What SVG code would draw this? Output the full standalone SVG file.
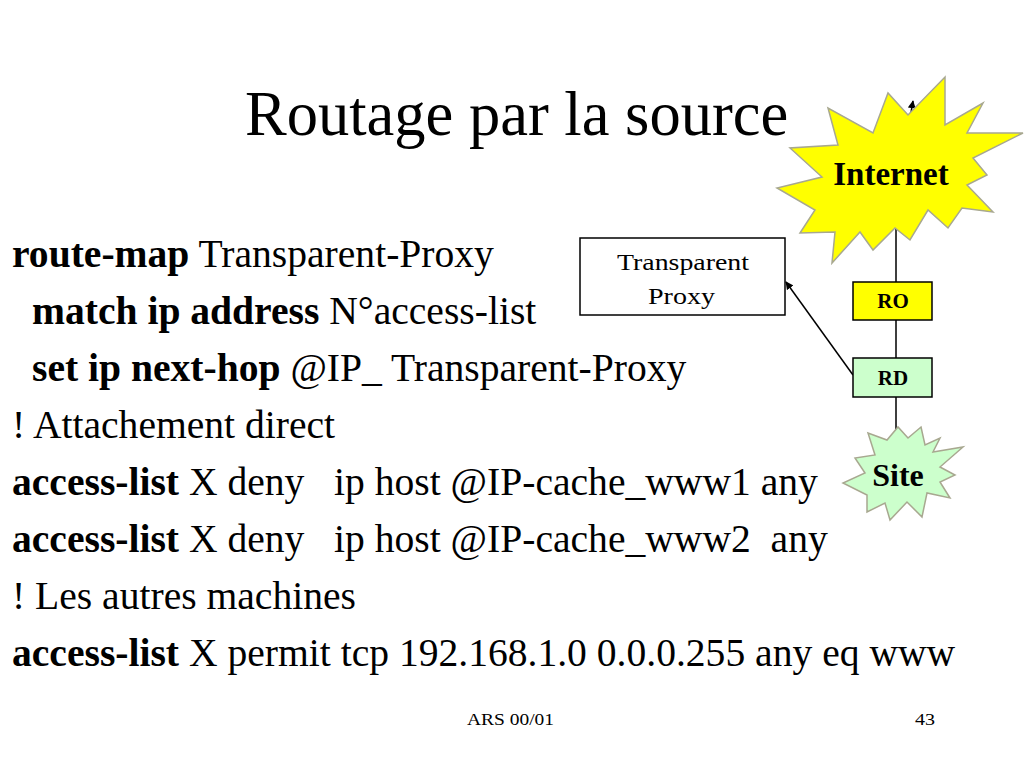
<svg xmlns="http://www.w3.org/2000/svg" width="1024" height="768" viewBox="0 0 1024 768">
<style>
  .t { font-family: "Liberation Serif", "Times New Roman", serif; fill: #000; }
  .body { font-size: 39.6px; white-space: pre; }
  .b { font-weight: bold; }
  .star { stroke: #A8A890; stroke-width: 1.5; stroke-linejoin: miter; }
  .box { stroke: #000; stroke-width: 1.5; }
  .conn { stroke: #000; stroke-width: 1.5; fill: none; }
</style>
<defs>
  <marker id="ah" viewBox="0 0 10 10" refX="9" refY="5" markerWidth="8" markerHeight="8" orient="auto" markerUnits="userSpaceOnUse">
    <path d="M0,0 L10,5 L0,10 z" fill="#000"/>
  </marker>
</defs>
<rect width="1024" height="768" fill="#fff"/>

<text class="t" x="245" y="135" font-size="62.5">Routage par la source</text>

<g id="code">
  <text class="t body" xml:space="preserve" x="12" y="267"><tspan class="b">route-map</tspan> Transparent-Proxy</text>
  <text class="t body" xml:space="preserve" x="32" y="324"><tspan class="b">match ip address</tspan> N°access-list</text>
  <text class="t body" xml:space="preserve" x="32" y="381"><tspan class="b">set ip next-hop</tspan> @IP_ Transparent-Proxy</text>
  <text class="t body" xml:space="preserve" x="12" y="438">! Attachement direct</text>
  <text class="t body" xml:space="preserve" x="12" y="495"><tspan class="b">access-list</tspan> X deny   ip host @IP-cache_www1 any</text>
  <text class="t body" xml:space="preserve" x="12" y="552"><tspan class="b">access-list</tspan> X deny   ip host @IP-cache_www2  any</text>
  <text class="t body" xml:space="preserve" x="12" y="609">! Les autres machines</text>
  <text class="t body" xml:space="preserve" x="12" y="666"><tspan class="b">access-list</tspan> X permit tcp 192.168.1.0 0.0.0.255 any eq www</text>
</g>

<g id="connectors">
  <polyline class="conn" points="896,432 896,200 913,101" marker-end="url(#ah)"/>
  <line class="conn" x1="853" y1="375" x2="786" y2="282" marker-end="url(#ah)"/>
</g>

<g id="internet">
  <polygon class="star" fill="#FFFF00" points="945,77 945,125 983,103 967,133 1023,133 973,158 987,175 967,185 993,212 962,208 948,228 928,210 910,240 895,228 873,250 860,232 832,263 835,232 800,233 815,210 777,188 822,177 790,148 838,145 828,108 873,133 888,93 908,115"/>
  <text class="t b" x="891" y="185" font-size="33" text-anchor="middle">Internet</text>
</g>

<g id="proxy">
  <rect class="box" x="580" y="238" width="205" height="77" fill="#fff"/>
  <text class="t" x="617" y="270" font-size="24" textLength="132" lengthAdjust="spacingAndGlyphs">Transparent</text>
  <text class="t" x="648" y="304" font-size="24" textLength="67" lengthAdjust="spacingAndGlyphs">Proxy</text>
</g>

<g id="ro">
  <rect class="box" x="853" y="282" width="79" height="38" fill="#FFFF00"/>
  <text class="t b" x="893" y="308" font-size="21" text-anchor="middle">RO</text>
</g>

<g id="rd">
  <rect class="box" x="853" y="358" width="79" height="39" fill="#CCFFCC"/>
  <text class="t b" x="893" y="385" font-size="21" text-anchor="middle">RD</text>
</g>

<g id="site">
  <polygon class="star" fill="#CCFFCC" points="921,427 925,445 940,438 933,452 963,447 940,467 955,475 940,482 950,498 927,493 922,517 907,502 890,520 885,503 867,512 867,495 843,483 865,473 855,458 875,455 868,433 887,440 898,427 908,438"/>
  <text class="t b" x="898" y="486" font-size="32" text-anchor="middle">Site</text>
</g>

<text class="t" x="467" y="725" font-size="17" textLength="87" lengthAdjust="spacingAndGlyphs">ARS 00/01</text>
<text class="t" x="915" y="725" font-size="17" textLength="20" lengthAdjust="spacingAndGlyphs">43</text>
</svg>
